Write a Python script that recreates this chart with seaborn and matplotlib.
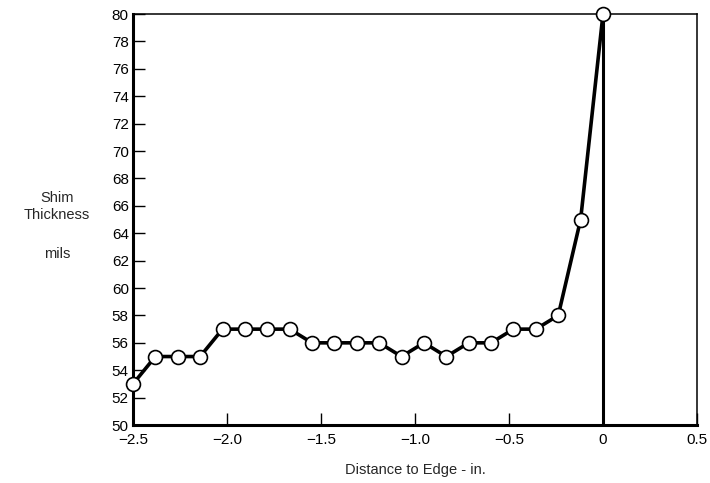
import numpy as np
import pandas as pd
import matplotlib
matplotlib.use("Agg")
import matplotlib.pyplot as plt
import seaborn as sns

# Shim thickness measured at evenly spaced stations approaching the edge
distance_in = np.linspace(-2.5, 0.0, 22)
thickness_mils = [53, 55, 55, 55, 57, 57, 57, 57, 56, 56, 56, 56,
                  55, 56, 55, 56, 56, 57, 57, 58, 65, 80]

x_ticks = [-2.5, -2.0, -1.5, -1.0, -0.5, 0.0, 0.5]
x_tick_labels = ["\u22122.5", "\u22122.0", "\u22121.5", "\u22121.0", "\u22120.5", "0", "0.5"]
y_ticks = list(range(50, 81, 2))

df = pd.DataFrame({"distance": distance_in, "thickness": thickness_mils})

sns.set_style("ticks")
plt.rcParams["font.family"] = ["Liberation Sans", "DejaVu Sans"]

fig = plt.figure(figsize=(7.10, 4.83), dpi=100)
ax = fig.add_axes([0.1873, 0.120, 0.7944, 0.851])

ax.axvline(0.0, color="black", lw=2.2, zorder=1)
sns.lineplot(data=df, x="distance", y="thickness", ax=ax, color="black",
             lw=2.6, marker="o", markersize=10, markerfacecolor="white",
             markeredgecolor="black", markeredgewidth=1.2, zorder=3,
             clip_on=False)

ax.set_xlim(-2.5, 0.5)
ax.set_ylim(50, 80)
ax.set_xticks(x_ticks)
ax.set_xticklabels(x_tick_labels)
ax.set_yticks(y_ticks)
ax.tick_params(direction="in", length=8.5, width=1.0, labelsize=11,
               colors="black")
ax.tick_params(axis="y", pad=3)
ax.tick_params(axis="x", pad=6)

for side in ["left", "bottom"]:
    ax.spines[side].set_linewidth(2.2)
for side in ["top", "right"]:
    ax.spines[side].set_linewidth(1.1)
for s in ax.spines.values():
    s.set_color("black")

ax.set_xlabel("Distance to Edge - in.", fontsize=10.5, labelpad=11)
ax.set_ylabel("")
fig.text(0.080, 0.572, "Shim\nThickness", ha="center", va="center",
         fontsize=10.5, linespacing=1.25)
fig.text(0.080, 0.474, "mils", ha="center", va="center", fontsize=10.5)

fig.savefig("out.png", dpi=100, facecolor="white")
